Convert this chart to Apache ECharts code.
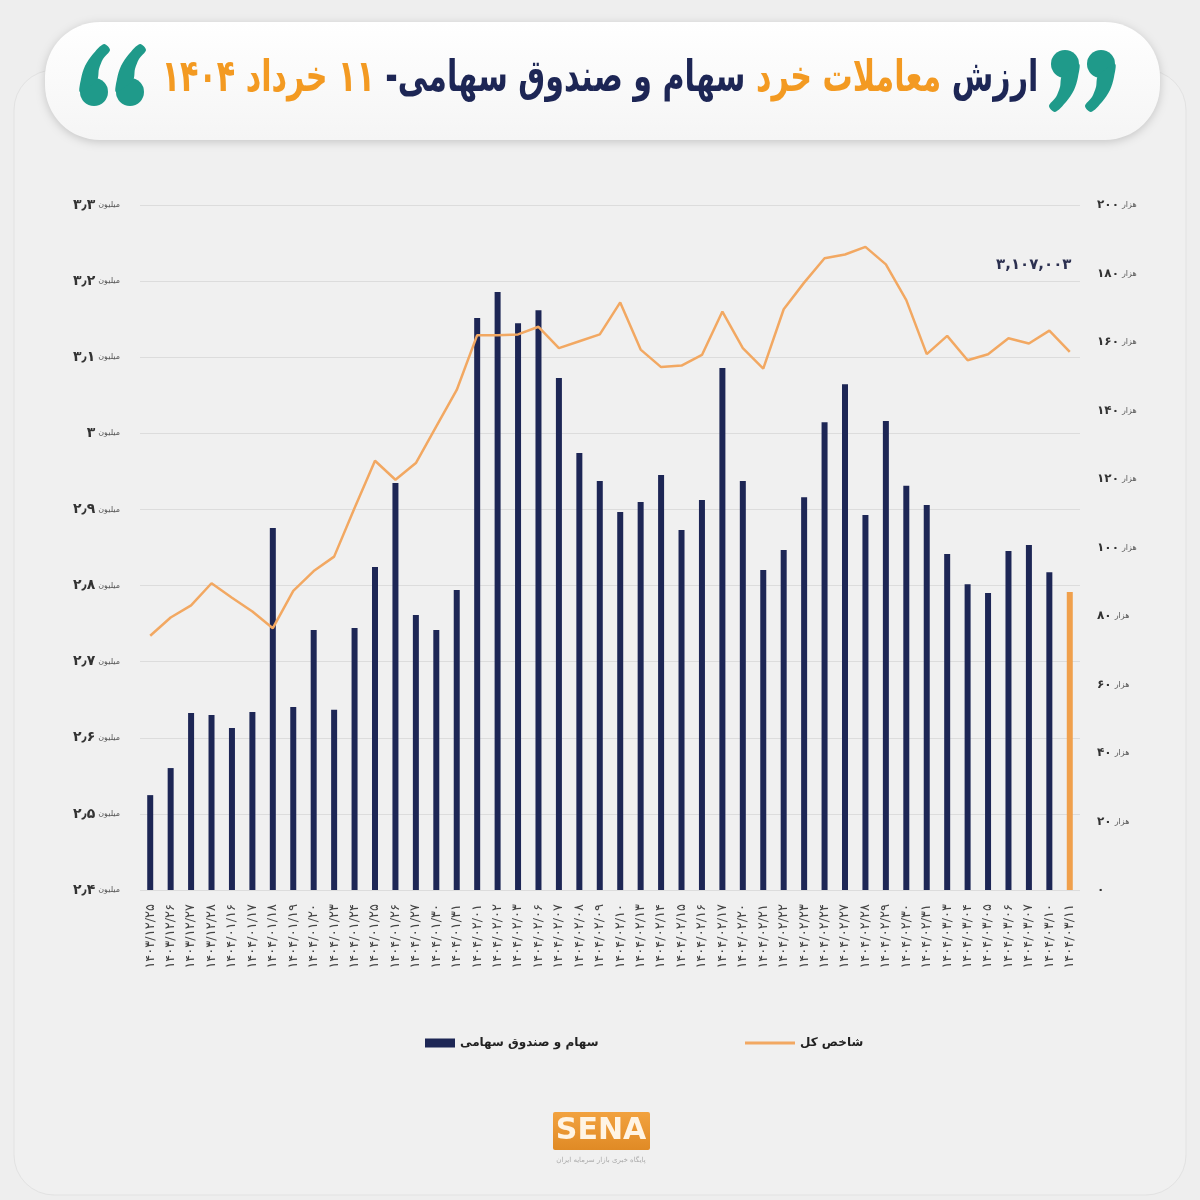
<!DOCTYPE html>
<html><head><meta charset="utf-8">
<script src="https://cdn.jsdelivr.net/npm/echarts@6/dist/echarts.min.js"></script>
<style>html,body{margin:0;padding:0;background:#eeeeee}#c{width:1200px;height:1200px}</style>
</head><body><div id="c"></div>
<script>
// ---- data ----
const categories = [
 '۱۴۰۳/۱۲/۲۵','۱۴۰۳/۱۲/۲۶','۱۴۰۳/۱۲/۲۷','۱۴۰۳/۱۲/۲۸',
 '۱۴۰۴/۰۱/۱۶','۱۴۰۴/۰۱/۱۷','۱۴۰۴/۰۱/۱۸','۱۴۰۴/۰۱/۱۹','۱۴۰۴/۰۱/۲۰','۱۴۰۴/۰۱/۲۳','۱۴۰۴/۰۱/۲۴','۱۴۰۴/۰۱/۲۵','۱۴۰۴/۰۱/۲۶','۱۴۰۴/۰۱/۲۷','۱۴۰۴/۰۱/۳۰','۱۴۰۴/۰۱/۳۱',
 '۱۴۰۴/۰۲/۰۱','۱۴۰۴/۰۲/۰۲','۱۴۰۴/۰۲/۰۳','۱۴۰۴/۰۲/۰۶','۱۴۰۴/۰۲/۰۷','۱۴۰۴/۰۲/۰۸','۱۴۰۴/۰۲/۰۹','۱۴۰۴/۰۲/۱۰','۱۴۰۴/۰۲/۱۳','۱۴۰۴/۰۲/۱۴','۱۴۰۴/۰۲/۱۵','۱۴۰۴/۰۲/۱۶','۱۴۰۴/۰۲/۱۷','۱۴۰۴/۰۲/۲۰','۱۴۰۴/۰۲/۲۱','۱۴۰۴/۰۲/۲۲','۱۴۰۴/۰۲/۲۳','۱۴۰۴/۰۲/۲۴','۱۴۰۴/۰۲/۲۷','۱۴۰۴/۰۲/۲۸','۱۴۰۴/۰۲/۲۹','۱۴۰۴/۰۲/۳۰','۱۴۰۴/۰۲/۳۱',
 '۱۴۰۴/۰۳/۰۳','۱۴۰۴/۰۳/۰۴','۱۴۰۴/۰۳/۰۵','۱۴۰۴/۰۳/۰۶','۱۴۰۴/۰۳/۰۷','۱۴۰۴/۰۳/۱۰','۱۴۰۴/۰۳/۱۱'
];
// retail value of stocks & equity funds (thousand billion rials)
const retailValue = [27.7,35.6,51.7,51.1,47.3,52.0,105.7,53.4,75.9,52.6,76.5,94.3,118.8,80.3,75.9,87.6,
 167.0,174.6,165.5,169.3,149.5,127.6,119.4,110.4,113.3,121.2,105.1,113.9,152.4,119.4,93.4,99.3,114.7,
 136.6,147.7,109.5,136.9,118.0,112.4,98.1,89.3,86.7,99.0,100.7,92.8,87.0];
// total index (million points)
const indexValue = [2.734,2.758,2.774,2.803,2.784,2.766,2.744,2.793,2.819,2.838,2.902,2.964,2.939,2.961,3.009,3.057,
 3.129,3.129,3.130,3.140,3.112,3.121,3.130,3.172,3.110,3.087,3.089,3.103,3.160,3.112,3.085,3.163,3.198,
 3.230,3.235,3.245,3.222,3.175,3.104,3.128,3.096,3.104,3.125,3.118,3.135,3.107003];
const seriesNames = ['سهام و صندوق سهامی', 'شاخص کل'];
const leftTickUnit = 'میلیون';
const rightTickUnit = 'هزار';
const titleParts = { a: 'ارزش', b: 'معاملات خرد', c: 'سهام و صندوق سهامی-', d: '۱۱ خرداد ۱۴۰۴' };

// ---- helpers ----
const faDigits = '۰۱۲۳۴۵۶۷۸۹';
function toFa(s){ return String(s).replace(/[0-9]/g, d => faDigits[+d]).replace(/\./g,'٫'); }
function R(s){ return '\u202B' + s + '\u202C'; }

const NAVY = '#1d2655', ORANGE = '#f0a04c', LINE = '#f2a862', TEAL = '#1f9a8a', TORANGE = '#f39a22';
const FONT = 'DejaVu Sans';

// a "6"-shaped quote mark (about 30 x 62), optionally rotated 180deg to make a "9"
function quoteMark(x, y, flip) {
  return {
    type: 'group', x: x + 14, y: y + 31, rotation: flip ? Math.PI : 0,
    children: [
      { type: 'circle', shape: { cx: 0, cy: 17, r: 14 }, style: { fill: TEAL } },
      { type: 'polygon', shape: { smooth: 0.3, points: [[-14,17],[-13,4],[-9,-9],[-1,-21],[10,-31],[16,-25],[9,-16],[5,-6],[3,5]] },
        style: { fill: TEAL } }
    ]
  };
}

const chart = echarts.init(document.getElementById('c'));
const last = retailValue.length - 1;
chart.setOption({
  backgroundColor: '#eeeeee',
  textStyle: { fontFamily: FONT },
  animation: false,
  grid: { left: 140, top: 205, width: 940, height: 685 },
  legend: [
    { data: [seriesNames[0]], left: 420, top: 1032, itemWidth: 30, itemHeight: 9, icon: 'rect',
      textStyle: { fontFamily: FONT, fontSize: 12, fontWeight: 'bold', color: '#222' } },
    { data: [seriesNames[1]], left: 740, top: 1032, itemWidth: 50, itemHeight: 3, icon: 'rect',
      textStyle: { fontFamily: FONT, fontSize: 12, fontWeight: 'bold', color: '#222' } }
  ],
  xAxis: {
    type: 'category', data: categories, boundaryGap: true,
    axisLine: { show: false }, axisTick: { show: false },
    axisLabel: { interval: 0, rotate: 90, fontSize: 13, color: '#444', fontFamily: FONT, margin: 14 }
  },
  yAxis: [
    { type: 'value', min: 2.4, max: 3.3, interval: 0.1, position: 'left',
      axisLine: { show: false }, axisTick: { show: false },
      splitLine: { lineStyle: { color: '#dcdcdc', width: 1 } },
      axisLabel: { margin: 20, formatter: v => '{a|' + toFa(+v.toFixed(1)) + '}{b|' + leftTickUnit + '}',
        rich: { a: { fontSize: 14, fontWeight: 'bold', color: '#333', fontFamily: FONT },
                b: { fontSize: 8, color: '#555', fontFamily: FONT, padding: [0,0,0,3] } } } },
    { type: 'value', min: 0, max: 200, interval: 20, position: 'right',
      axisLine: { show: false }, axisTick: { show: false }, splitLine: { show: false },
      axisLabel: { margin: 17, formatter: v => v === 0 ? '{a|' + toFa(0) + '}' : '{a|' + toFa(v) + '}{b|' + rightTickUnit + '}',
        rich: { a: { fontSize: 12, fontWeight: 'bold', color: '#333', fontFamily: FONT },
                b: { fontSize: 8, color: '#555', fontFamily: FONT, padding: [0,0,0,3] } } } }
  ],
  series: [
    { name: seriesNames[1], type: 'line', yAxisIndex: 0, symbol: 'none',
      lineStyle: { color: LINE, width: 2.5 }, itemStyle: { color: LINE },
      data: indexValue,
      markPoint: {
        symbol: 'circle', symbolSize: 1, itemStyle: { color: 'rgba(0,0,0,0)' },
        data: [{ coord: [last, indexValue[last]], value: indexValue[last] }],
        label: { show: true, position: 'top', offset: [-36, -74],
          formatter: p => toFa(Math.round(p.value * 1e6).toLocaleString('en-US')),
          fontSize: 15, fontWeight: 'bold', color: '#2c3050', fontFamily: FONT }
      } },
    { name: seriesNames[0], type: 'bar', yAxisIndex: 1, barWidth: 6,
      itemStyle: { color: NAVY },
      data: retailValue.map((v, i) => i === last ? { value: v, itemStyle: { color: ORANGE } } : v) }
  ],
  graphic: [
    { type: 'rect', z: -1, shape: { x: 14, y: 70, width: 1172, height: 1125, r: 40 },
      style: { fill: '#f0f0f0', stroke: '#e2e2e2', lineWidth: 1 } },
    { type: 'rect', shape: { x: 45, y: 22, width: 1115, height: 118, r: 55 },
      style: { fill: new echarts.graphic.LinearGradient(0,0,0,1,[{offset:0,color:'#ffffff'},{offset:1,color:'#f5f5f5'}]),
               shadowBlur: 10, shadowColor: 'rgba(0,0,0,0.18)', shadowOffsetY: 2 } },
    quoteMark(80, 44, false), quoteMark(116, 44, false),
    quoteMark(1051, 50, true), quoteMark(1087, 50, true),
    { type: 'text', x: 600, y: 80, scaleX: 0.685, scaleY: 1,
      style: { x: 0, y: 0, align: 'center', verticalAlign: 'middle',
        text: '{o|' + R(titleParts.d) + '} {n|' + R(titleParts.c) + '} {o|' + R(titleParts.b) + '} {n|' + R(titleParts.a) + '}',
        rich: { o: { fill: TORANGE, font: 'bold 44px ' + FONT }, n: { fill: NAVY, font: 'bold 44px ' + FONT } },
        font: 'bold 44px ' + FONT } },
    { type: 'rect', shape: { x: 553, y: 1112, width: 97, height: 38, r: 2 },
      style: { fill: new echarts.graphic.LinearGradient(0,0,0,1,[{offset:0,color:'#f2a23f'},{offset:1,color:'#e08a25'}]) } },
    { type: 'text', style: { x: 601, y: 1131, text: 'SENA', fill: '#fff4e4', font: 'bold 30px ' + FONT, align: 'center', verticalAlign: 'middle' } },
    { type: 'text', style: { x: 601, y: 1160, text: 'پایگاه خبری بازار سرمایه ایران', fill: '#aaa', font: '7px ' + FONT, align: 'center', verticalAlign: 'middle' } }
  ]
});
</script></body></html>
